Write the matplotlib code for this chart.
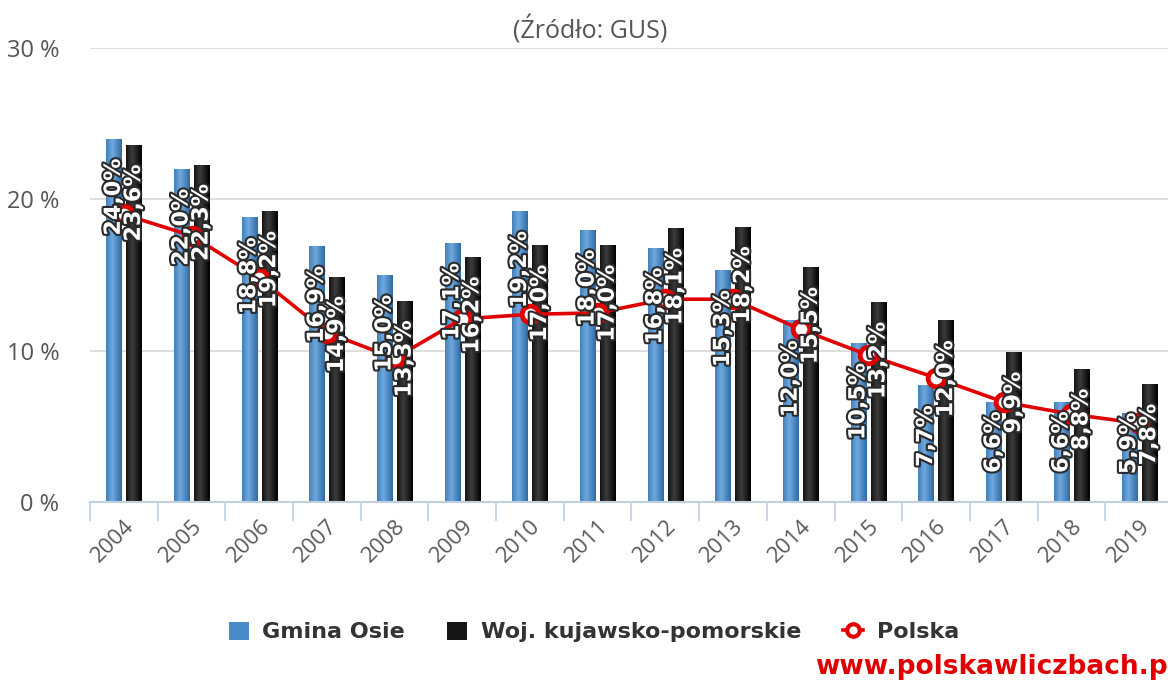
import matplotlib
matplotlib.use("Agg")
import matplotlib.pyplot as plt
import matplotlib.patheffects as pe
from matplotlib.patches import Patch
from matplotlib.lines import Line2D
import numpy as np

years = ["2004", "2005", "2006", "2007", "2008", "2009", "2010", "2011",
         "2012", "2013", "2014", "2015", "2016", "2017", "2018", "2019"]
gmina = [24.0, 22.0, 18.8, 16.9, 15.0, 17.1, 19.2, 18.0,
         16.8, 15.3, 12.0, 10.5, 7.7, 6.6, 6.6, 5.9]
woj = [23.6, 22.3, 19.2, 14.9, 13.3, 16.2, 17.0, 17.0,
       18.1, 18.2, 15.5, 13.2, 12.0, 9.9, 8.8, 7.8]
polska = [19.0, 17.6, 14.8, 11.2, 9.5, 12.1, 12.4, 12.5,
          13.4, 13.4, 11.4, 9.7, 8.2, 6.6, 5.8, 5.2]

BLUE = "#4a8bc9"
BLACK = "#151515"
RED = "#e00000"

fig = plt.figure(figsize=(11.68, 6.85), dpi=100)
ax = fig.add_axes([90 / 1168, 183 / 685, 1083 / 1168, 454 / 685])

x = np.arange(len(years))
w = 0.225
off = 0.148

bars_g = ax.bar(x - off, gmina, w, color=BLUE, zorder=2)
bars_w = ax.bar(x + off, woj, w, color=BLACK, zorder=2)


def shade(bars, light, dark):
    # horizontal gradient, light band slightly left of centre
    t = np.linspace(0, 1, 64)
    k = np.clip(1 - np.abs(t - 0.4) / 0.6, 0, 1)[None, :, None]
    c1 = np.array(matplotlib.colors.to_rgb(light))
    c2 = np.array(matplotlib.colors.to_rgb(dark))
    img = c2 + (c1 - c2) * k
    for b in bars:
        x0, y0 = b.get_x(), b.get_y()
        im = ax.imshow(img, extent=(x0, x0 + b.get_width(), y0, y0 + b.get_height()),
                       aspect="auto", zorder=2.1, interpolation="bilinear")
        im.set_clip_path(b)


shade(bars_g, "#6fa9df", "#2f6aa4")
shade(bars_w, "#3c3c3c", "#000000")

ax.plot(x, polska, color=RED, lw=2.6, marker="o", ms=12, mfc="white",
        mec=RED, mew=3.5, zorder=4)

for xs, vals in ((x - off, gmina), (x + off, woj)):
    for xi, v in zip(xs, vals):
        txt = f"{v:.1f}%".replace(".", ",")
        y = min(v, max(v - 1.3, 6.0))
        ax.text(xi, y, txt, rotation=90, ha="center", va="top", color="white",
                fontsize=16, fontweight="bold", zorder=5,
                path_effects=[pe.withStroke(linewidth=3, foreground="#2a2a2a")])

ax.set_xlim(-0.5, len(years) - 0.5)
ax.set_ylim(0, 30)
ax.set_yticks([0, 10, 20, 30])
ax.set_yticklabels(["0 %", "10 %", "20 %", "30 %"], fontsize=17, color="#555555",
                   family="Open Sans")
ax.tick_params(axis="y", length=0, pad=22)
ax.grid(axis="y", color="#d8d8d8", lw=1.2, zorder=0)
ax.set_axisbelow(True)

ax.set_xticks(x)
ax.set_xticklabels(years, rotation=45, ha="right", rotation_mode="anchor",
                   fontsize=16, color="#5a5a5a", family="Open Sans")
ax.set_xticks(np.arange(len(years) + 1) - 0.5, minor=True)
ax.tick_params(axis="x", which="major", length=0, pad=10)
ax.tick_params(axis="x", which="minor", length=14, width=1.2, color="#c0d0e0")

for s in ("top", "right", "left"):
    ax.spines[s].set_visible(False)
ax.spines["bottom"].set_color("#c0d0e0")
ax.spines["bottom"].set_linewidth(1.5)

fig.text(590 / 1168, 1 - 30 / 685, "(Źródło: GUS)", ha="center", va="center",
         fontsize=18, color="#555555", family="Open Sans")

handles = [Patch(facecolor=BLUE, edgecolor="none"),
           Patch(facecolor=BLACK, edgecolor="none"),
           Line2D([], [], color=RED, lw=2.6, marker="o", ms=9, mfc="white",
                  mec=RED, mew=3)]
fig.legend(handles, ["Gmina Osie", "Woj. kujawsko-pomorskie", "Polska"],
           loc="center", bbox_to_anchor=(594 / 1168, 1 - 632 / 685), ncol=3,
           frameon=False, handlelength=0.9, handleheight=0.9, handletextpad=0.6,
           columnspacing=1.9,
           prop={"family": "DejaVu Sans", "weight": "bold", "size": 16},
           labelcolor="#333333")

# watermark runs off the right edge, as in the source image
fig.text(815 / 1168, 1 - 667 / 685, "www.polskawliczbach.pl", ha="left",
         va="center", fontsize=19, fontweight="bold", color=RED)

fig.savefig("out.png", dpi=100)
